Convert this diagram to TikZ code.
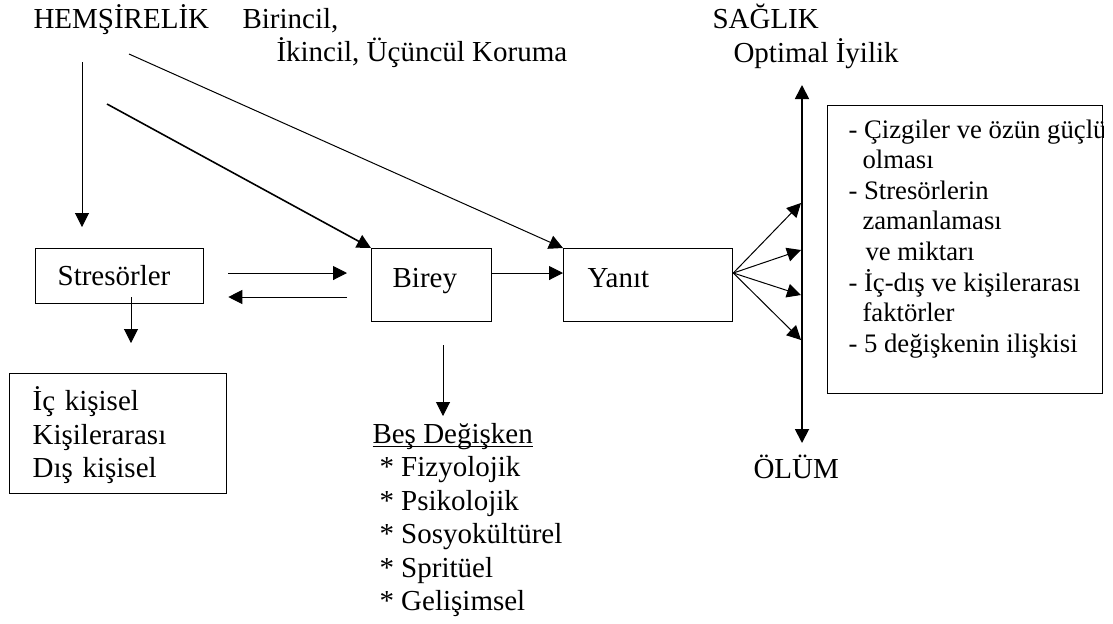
\documentclass[tikz,border=0pt]{standalone}
\usepackage{fontspec}
\setmainfont{Liberation Serif}
\usepackage{tikz}
\usetikzlibrary{arrows.meta}
\newcommand\bigtxt{\fontsize{14.5pt}{16.75pt}\selectfont}
\newcommand\smalltxt{\fontsize{13.35pt}{15.3pt}\selectfont}

\begin{document}
\begin{tikzpicture}[x=0.5pt, y=-0.5pt, line width=0.5pt,
  >={Triangle[length=7pt,width=7pt]},
  lbl/.style={inner sep=0pt, anchor=base west, font=\bigtxt},
  box/.style={draw, line width=0.65pt, inner ysep=0pt, anchor=north west, align=left, font=\bigtxt}]
  \useasboundingbox (0,0) rectangle (1113,623);
  \fill[white] (0,0) rectangle (1113,623);
  % titles
  \node[lbl] (hems) at (33,28) {HEMŞİRELİK};
  \node[lbl] (kor1) at (242,28) {Birincil,};
  \node[lbl] (kor2) at (276,61) {İkincil, Üçüncül Koruma};
  \node[lbl] (sag) at (712,28) {SAĞLIK};
  \node[lbl] (opt) at (733,62) {Optimal İyilik};
  \node[lbl] (olum) at (753,478) {ÖLÜM};
  % boxes
  \node[box, minimum width=84pt, minimum height=27.5pt, inner xsep=11pt, text width=62pt,
    text height=10pt, text depth=0.5pt] (stres) at (35,248) {Stresörler};
  \node[box, minimum width=60pt, minimum height=36.5pt, inner xsep=10.5pt, text width=39pt,
    text height=9pt, text depth=7pt] (birey) at (371,248) {Birey};
  \node[box, minimum width=84.5pt, minimum height=36.5pt, inner xsep=12pt, text width=60.5pt,
    text height=9pt, text depth=6.5pt] (yanit) at (563,248) {Yanıt};
  \node[box, minimum width=108.5pt, minimum height=60pt, inner xsep=11.5pt, text width=85.5pt,
    text height=10pt, text depth=33pt] (kisi) at (9,373)
    {\parbox[t]{85.5pt}{İç kişisel\\Kişilerarası\\Dış kişisel}};
  % factors box
  \node[box, minimum width=137.5pt, minimum height=144pt] (fak) at (827,105) {};
  \begin{scope}
    \clip (fak.south west) rectangle (fak.north east);
    \node[lbl, font=\smalltxt] (fakt) at (848,138) {\parbox[t]{140pt}{- Çizgiler ve özün güçlü\\
      \hspace*{7pt}olması\\- Stresörlerin\\\hspace*{7pt}zamanlaması\\\hspace*{8.5pt}ve miktarı\\
      - İç-dış ve kişilerarası\\\hspace*{7pt}faktörler\\- 5 değişkenin ilişkisi}};
  \end{scope}
  % five variables
  \node[lbl] (bes) at (372,443) {\parbox[t]{200pt}{\makebox[0pt][l]{\rule[-2.2pt]{80pt}{0.6pt}}Beş Değişken\\
    \hspace*{3.5pt}* Fizyolojik\\\hspace*{3.5pt}* Psikolojik\\\hspace*{3.5pt}* Sosyokültürel\\
    \hspace*{3.5pt}* Spritüel\\\hspace*{3.5pt}* Gelişimsel}};
  % health axis
  \coordinate (top) at (802,85);
  \coordinate (bot) at (802,443);
  \draw[<->, line width=0.9pt] (top) -- (bot);
  % connectors
  \coordinate (row1) at (0,273);
  \coordinate (row2) at (0,297);
  \coordinate (h1) at (82,62);
  \coordinate (d1) at (107,104);
  \coordinate (d2) at (129,54);
  \coordinate (s1) at (131,297);
  \coordinate (b1) at (443,345);
  \draw[->, shorten >=10.5pt] (h1) -- (h1 |- stres.north);
  \draw[->, line width=0.8pt] (d1) -- (birey.north west);
  \draw[->] (d2) -- (yanit.north west);
  \draw[->, shorten <=12pt, shorten >=12pt] (stres.east |- row1) -- (birey.west |- row1);
  \draw[->, shorten <=12pt, shorten >=12pt] (birey.west |- row2) -- (stres.east |- row2);
  \draw[->] (birey.east |- row1) -- (yanit.west |- row1);
  \draw[->, shorten >=15pt] (s1) -- (s1 |- kisi.north);
  \draw[->, shorten >=13.5pt] (b1) -- (b1 |- bes.base);
  \foreach \y in {203,250,295,340}
    \draw[->] (yanit.east |- row1) -- (801,\y);
\end{tikzpicture}
\end{document}
